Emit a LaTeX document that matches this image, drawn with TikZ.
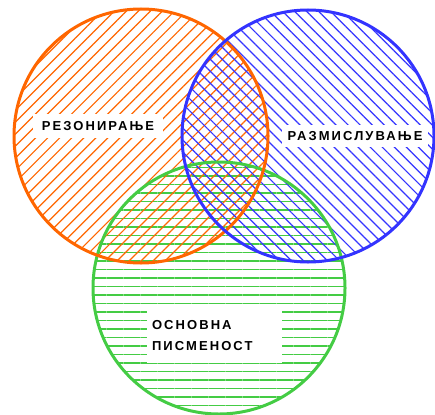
\documentclass[tikz,border=0pt]{standalone}
\usepackage{fontspec}
\setmainfont{Liberation Sans}
\newfontfamily\spacedfont[LetterSpace=16]{Liberation Sans}
\usetikzlibrary{patterns.meta}

\definecolor{venorange}{RGB}{255,102,0}
\definecolor{venblue}{RGB}{51,51,255}
\definecolor{vengreen}{RGB}{68,204,68}

\begin{document}
\begin{tikzpicture}[x=1pt, y=-1pt,
  ring/.style={line width=3pt},
  hatch/.style={pattern={Lines[angle=#1, distance=8.5pt, line width=1.2pt]}},
  tag/.style={fill=white, inner sep=0pt, align=left,
    font=\spacedfont\bfseries\fontsize{13}{21}\selectfont}
  ]
\useasboundingbox (0,0) rectangle (435,414);

% hatching of the three sets
\fill[hatch=0, pattern color=vengreen] (219,288) circle (126pt);
\fill[hatch=45, pattern color=venorange] (141,136) circle (127pt);
\fill[hatch=-45, pattern color=venblue] (308,136) circle (126pt);

% labels on white
\node[tag, minimum width=130pt, minimum height=23pt] (reason) at (98,126) {РЕЗОНИРАЊЕ};
\node[tag, minimum width=146pt, minimum height=22pt] (thinking) at (355,136) {РАЗМИСЛУВАЊЕ};
\node[tag, minimum width=135pt, minimum height=53pt, text width=124pt] (literacy) at (214,336) {ОСНОВНА\\ПИСМЕНОСТ};

% outlines
\draw[ring, vengreen] (219,288) circle (126pt);
\draw[ring, venorange] (141,136) circle (127pt);
\draw[ring, venblue] (308,136) circle (126pt);
\end{tikzpicture}
\end{document}
